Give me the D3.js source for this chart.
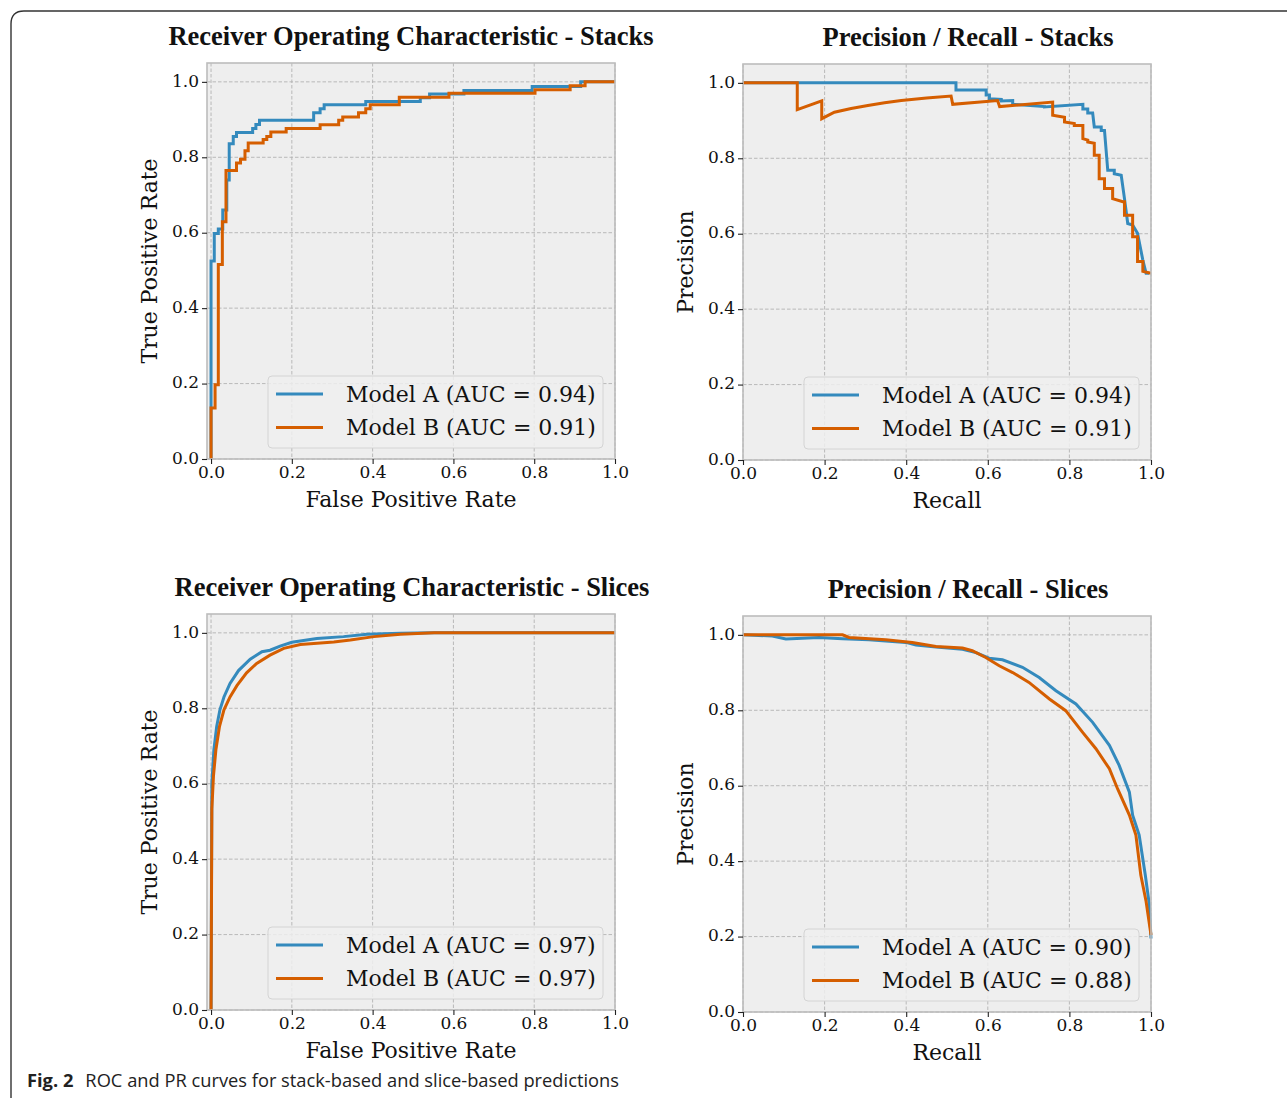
<!DOCTYPE html>
<meta charset="utf-8">
<style>
body { margin: 0; background: #fff; }
svg { display: block; }
</style>
<body>
<script src="https://cdn.jsdelivr.net/npm/d3@7"></script>
<script>
// --- data ---
var modelNames = ['Model A', 'Model B']
var colors = ['#348abd', '#d55e00']
var ticks = [0, 0.2, 0.4, 0.6, 0.8, 1.0]

// ROC, stack-based (step points: x where tpr steps up, new tpr)
var stackRocFprA = [0, 0, 0.008, 0.018, 0.029, 0.039, 0.045, 0.055, 0.063, 0.103, 0.111, 0.12, 0.254, 0.27, 0.28, 0.383, 0.518, 0.541, 0.626, 0.795, 0.915, 1.0]
var stackRocTprA = [0, 0.525, 0.598, 0.61, 0.66, 0.74, 0.836, 0.855, 0.866, 0.876, 0.887, 0.898, 0.918, 0.929, 0.939, 0.948, 0.958, 0.968, 0.977, 0.988, 1.0, 1.0]
var stackRocFprB = [0, 0, 0.01, 0.018, 0.028, 0.037, 0.063, 0.073, 0.084, 0.092, 0.129, 0.138, 0.148, 0.186, 0.27, 0.316, 0.326, 0.365, 0.383, 0.394, 0.466, 0.589, 0.802, 0.889, 0.926, 1.0]
var stackRocTprB = [0, 0.135, 0.197, 0.516, 0.629, 0.765, 0.785, 0.795, 0.817, 0.838, 0.847, 0.855, 0.867, 0.876, 0.886, 0.898, 0.907, 0.918, 0.929, 0.939, 0.959, 0.97, 0.979, 0.99, 1.0, 1.0]
var stackRocAuc = [0.94, 0.91]

// PR, stack-based
var stackRecA = [0, 0.522, 0.522, 0.596, 0.596, 0.604, 0.604, 0.633, 0.633, 0.661, 0.661, 0.739, 0.739, 0.833, 0.833, 0.845, 0.845, 0.857, 0.861, 0.878, 0.878, 0.886, 0.894, 0.91, 0.91, 0.927, 0.935, 0.943, 0.955, 0.967, 0.98, 0.988, 0.995]
var stackPreA = [1, 1, 0.981, 0.981, 0.968, 0.968, 0.958, 0.956, 0.952, 0.953, 0.943, 0.937, 0.936, 0.943, 0.931, 0.931, 0.92, 0.92, 0.883, 0.883, 0.874, 0.874, 0.768, 0.768, 0.759, 0.755, 0.693, 0.627, 0.623, 0.601, 0.53, 0.495, 0.495]
var stackRecB = [0, 0.133, 0.133, 0.193, 0.193, 0.224, 0.265, 0.306, 0.347, 0.388, 0.45, 0.51, 0.514, 0.624, 0.629, 0.759, 0.759, 0.788, 0.788, 0.812, 0.812, 0.833, 0.833, 0.845, 0.845, 0.861, 0.861, 0.873, 0.873, 0.886, 0.886, 0.906, 0.906, 0.931, 0.935, 0.935, 0.955, 0.955, 0.967, 0.967, 0.98, 0.98, 1.0]
var stackPreB = [1, 1, 0.929, 0.952, 0.905, 0.922, 0.932, 0.94, 0.947, 0.953, 0.96, 0.965, 0.943, 0.953, 0.937, 0.949, 0.914, 0.909, 0.896, 0.892, 0.887, 0.887, 0.852, 0.848, 0.843, 0.84, 0.808, 0.808, 0.746, 0.746, 0.72, 0.72, 0.693, 0.685, 0.685, 0.649, 0.649, 0.592, 0.592, 0.526, 0.526, 0.5, 0.495]
var stackPrAuc = [0.94, 0.91]

// ROC, slice-based
var sliceRocFprA = [0, 0.002, 0.007, 0.014, 0.022, 0.032, 0.047, 0.068, 0.097, 0.126, 0.146, 0.171, 0.2, 0.262, 0.328, 0.386, 0.469, 0.552, 1.0]
var sliceRocTprA = [0, 0.6, 0.69, 0.752, 0.796, 0.83, 0.866, 0.9, 0.93, 0.95, 0.954, 0.965, 0.975, 0.985, 0.99, 0.996, 0.999, 1.0, 1.0]
var sliceRocFprB = [0, 0.002, 0.006, 0.012, 0.021, 0.032, 0.047, 0.064, 0.088, 0.113, 0.146, 0.18, 0.221, 0.304, 0.345, 0.403, 0.469, 0.552, 1.0]
var sliceRocTprB = [0, 0.533, 0.62, 0.69, 0.752, 0.796, 0.83, 0.86, 0.894, 0.919, 0.941, 0.959, 0.969, 0.976, 0.981, 0.99, 0.996, 1.0, 1.0]
var sliceRocAuc = [0.97, 0.97]

// PR, slice-based
var sliceRecA = [0, 0.072, 0.105, 0.186, 0.244, 0.309, 0.399, 0.424, 0.473, 0.538, 0.571, 0.603, 0.636, 0.685, 0.726, 0.767, 0.816, 0.857, 0.898, 0.922, 0.947, 0.955, 0.971, 0.986, 0.996, 1.0]
var slicePreA = [1.0, 0.997, 0.989, 0.993, 0.99, 0.987, 0.98, 0.973, 0.968, 0.962, 0.953, 0.938, 0.934, 0.914, 0.887, 0.852, 0.817, 0.768, 0.707, 0.654, 0.583, 0.522, 0.469, 0.363, 0.284, 0.195]
var sliceRecB = [0, 0.244, 0.26, 0.35, 0.415, 0.473, 0.538, 0.562, 0.595, 0.628, 0.661, 0.701, 0.751, 0.791, 0.832, 0.865, 0.898, 0.918, 0.947, 0.963, 0.975, 0.988, 1.0]
var slicePreB = [1.0, 1.0, 0.993, 0.987, 0.98, 0.969, 0.965, 0.958, 0.94, 0.918, 0.9, 0.874, 0.83, 0.799, 0.742, 0.698, 0.645, 0.592, 0.522, 0.469, 0.363, 0.293, 0.204]
var slicePrAuc = [0.90, 0.88]

// --- layout ---
var width = 1287
var height = 1098
var pw = 408
var ph = 396

function zip(xs, ys) {
    return xs.map(function (x, i) { return [x, ys[i]] })
}

var panels = [
    {
        x: 207, y: 63, title: 'Receiver Operating Characteristic - Stacks', titleX: 411,
        xlabel: 'False Positive Rate', ylabel: 'True Positive Rate',
        xdomain: [-0.01, 1.0], step: true,
        series: [zip(stackRocFprA, stackRocTprA), zip(stackRocFprB, stackRocTprB)], auc: stackRocAuc
    },
    {
        x: 743, y: 64, title: 'Precision / Recall - Stacks', titleX: 968,
        xlabel: 'Recall', ylabel: 'Precision',
        xdomain: [0, 1.0], step: false,
        series: [zip(stackRecA, stackPreA), zip(stackRecB, stackPreB)], auc: stackPrAuc
    },
    {
        x: 207, y: 614, title: 'Receiver Operating Characteristic - Slices', titleX: 412,
        xlabel: 'False Positive Rate', ylabel: 'True Positive Rate',
        xdomain: [-0.01, 1.0], step: false,
        series: [zip(sliceRocFprA, sliceRocTprA), zip(sliceRocFprB, sliceRocTprB)], auc: sliceRocAuc
    },
    {
        x: 743, y: 616, title: 'Precision / Recall - Slices', titleX: 968,
        xlabel: 'Recall', ylabel: 'Precision',
        xdomain: [0, 1.0], step: false,
        series: [zip(sliceRecA, slicePreA), zip(sliceRecB, slicePreB)], auc: slicePrAuc
    }
]

var svg = d3.select('body')
    .append('svg')
    .attr('width', width)
    .attr('height', height)

// page frame with rounded top-left corner
svg.append('path')
    .attr('d', 'M11,' + (height + 5) + 'V24Q11,11 24,11H' + (width + 5))
    .attr('fill', 'none')
    .attr('stroke', '#333')
    .attr('stroke-width', 1.4)

panels.forEach(drawPanel)

function drawPanel(p) {
    var x = d3.scaleLinear().domain(p.xdomain).range([0, pw])
    var y = d3.scaleLinear().domain([0, 1.05]).range([ph, 0])

    var g = svg.append('g').attr('transform', 'translate(' + p.x + ',' + p.y + ')')

    g.append('rect')
        .attr('width', pw)
        .attr('height', ph)
        .attr('fill', '#eeeeee')

    // grid
    g.append('g').selectAll('line.vx')
        .data(ticks).enter().append('line')
        .attr('x1', function (d) { return x(d) }).attr('x2', function (d) { return x(d) })
        .attr('y1', 0).attr('y2', ph)
    g.append('g').selectAll('line.hy')
        .data(ticks).enter().append('line')
        .attr('y1', function (d) { return y(d) }).attr('y2', function (d) { return y(d) })
        .attr('x1', 0).attr('x2', pw)
    g.selectAll('line')
        .attr('stroke', '#b2b2b2')
        .attr('stroke-width', 0.9)
        .attr('stroke-dasharray', '3.5,2')

    // curves
    var line = d3.line()
        .x(function (d) { return x(d[0]) })
        .y(function (d) { return y(d[1]) })
        .curve(p.step ? d3.curveStepAfter : d3.curveLinear)

    g.append('g').selectAll('path')
        .data(p.series).enter().append('path')
        .attr('d', line)
        .attr('fill', 'none')
        .attr('stroke', function (d, i) { return colors[i] })
        .attr('stroke-width', 3)
        .attr('stroke-linejoin', 'miter')

    // frame
    g.append('rect')
        .attr('width', pw)
        .attr('height', ph)
        .attr('fill', 'none')
        .attr('stroke', '#bcbcbc')
        .attr('stroke-width', 1.6)

    // axes
    var fmt = d3.format('.1f')
    var xAxis = g.append('g')
        .attr('transform', 'translate(0,' + ph + ')')
        .call(d3.axisBottom(x).tickValues(ticks).tickFormat(fmt).tickSize(5).tickPadding(3))
    var yAxis = g.append('g')
        .call(d3.axisLeft(y).tickValues(ticks).tickFormat(fmt).tickSize(5).tickPadding(3))
    ;[xAxis, yAxis].forEach(function (a) {
        a.select('.domain').remove()
        a.selectAll('line').attr('stroke', '#222').attr('stroke-width', 1.1)
        a.selectAll('text')
            .attr('fill', '#111')
            .style('font-family', '"DejaVu Serif", serif')
            .style('font-size', '17px')
    })
    xAxis.selectAll('text').attr('dy', '0.65em')
    yAxis.selectAll('text').attr('dy', '0.25em')

    // labels
    svg.append('text')
        .attr('x', p.x + pw / 2)
        .attr('y', p.y + ph + 48)
        .attr('text-anchor', 'middle')
        .style('font-family', '"DejaVu Serif", serif')
        .style('font-size', '22px')
        .attr('fill', '#111')
        .text(p.xlabel)
    svg.append('text')
        .attr('transform', 'translate(' + (p.x - 50) + ',' + (p.y + ph / 2) + ') rotate(-90)')
        .attr('text-anchor', 'middle')
        .style('font-family', '"DejaVu Serif", serif')
        .style('font-size', '22px')
        .attr('fill', '#111')
        .text(p.ylabel)
    svg.append('text')
        .attr('x', p.titleX)
        .attr('y', p.y - 18)
        .attr('text-anchor', 'middle')
        .style('font-family', '"Liberation Serif", "Times New Roman", serif')
        .style('font-weight', 'bold')
        .style('font-size', '26.5px')
        .attr('fill', '#111')
        .text(p.title)

    // legend
    var lw = 335
    var lh = 72
    var leg = g.append('g')
        .attr('transform', 'translate(' + (pw - 12 - lw) + ',' + (ph - 11 - lh) + ')')
    leg.append('rect')
        .attr('width', lw)
        .attr('height', lh)
        .attr('rx', 4)
        .attr('fill', '#eeeeee')
        .attr('fill-opacity', 0.85)
        .attr('stroke', '#d4d4d4')
        .attr('stroke-width', 1)
    var rows = leg.selectAll('g.row')
        .data(modelNames).enter().append('g')
        .attr('transform', function (d, i) { return 'translate(0,' + (18 + i * 33.5) + ')' })
    rows.append('line')
        .attr('x1', 8).attr('x2', 55)
        .attr('stroke', function (d, i) { return colors[i] })
        .attr('stroke-width', 3.2)
    rows.append('text')
        .attr('x', 78)
        .attr('dy', '0.35em')
        .style('font-family', '"DejaVu Serif", serif')
        .style('font-size', '22px')
        .attr('fill', '#111')
        .text(function (d, i) { return d + ' (AUC = ' + p.auc[i].toFixed(2) + ')' })
}

// caption
var cap = svg.append('text')
    .attr('x', 27)
    .attr('y', 1087)
    .style('font-family', '"Open Sans", "Noto Sans", sans-serif')
    .style('font-size', '18.3px')
    .attr('fill', '#222')
cap.append('tspan').style('font-weight', 'bold').text('Fig. 2')
cap.append('tspan').attr('dx', 12).text('ROC and PR curves for stack-based and slice-based predictions')
</script>
</body>
